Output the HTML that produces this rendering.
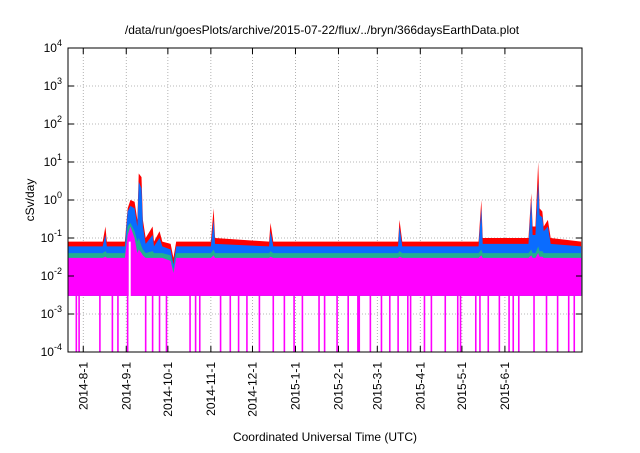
<!DOCTYPE html>
<html><head><meta charset="utf-8"><style>
body{margin:0;background:#fff;width:640px;height:448px;overflow:hidden}
svg{font-family:"Liberation Sans",Helvetica,sans-serif}
</style></head><body>
<svg id="chart" width="640" height="448">
<text x="322" y="34" font-size="12" text-anchor="middle">/data/run/goesPlots/archive/2015-07-22/flux/../bryn/366daysEarthData.plot</text>
<text x="0" y="0" font-size="12" text-anchor="middle" transform="translate(34,200) rotate(-90)">cSv/day</text>
<text x="325" y="441" font-size="12" text-anchor="middle">Coordinated Universal Time (UTC)</text>
<g id="grid"></g><g id="series"></g><g id="axes"></g>
</svg>
<script>
const days=[0,19.5,25,27,28,41,43,45,48,50,51,53,54,56,61,62,66,68,74,76,78,103,105,106,145,146,148,238,239,241,296,298,299,332,334,335,337,339,340,342,343,346,348,370];
const redVals=[0.08,0.08,0.08,0.2,0.08,0.08,0.6,1.0,0.9,0.3,5,4,0.3,0.1,0.2,0.08,0.15,0.08,0.07,0.03,0.08,0.08,0.6,0.1,0.08,0.25,0.08,0.08,0.3,0.08,0.08,1.0,0.1,0.1,1.5,0.2,0.2,10,0.6,0.5,0.2,0.3,0.1,0.08];
const blueVals=[0.06,0.06,0.06,0.12,0.06,0.06,0.5,0.7,0.6,0.2,3,2,0.2,0.07,0.12,0.06,0.1,0.06,0.05,0.02,0.06,0.06,0.3,0.07,0.06,0.15,0.06,0.06,0.2,0.06,0.06,0.6,0.07,0.07,1.0,0.12,0.12,3,0.4,0.35,0.15,0.2,0.07,0.06];
const tealVals=[0.04,0.04,0.04,0.045,0.04,0.04,0.2,0.25,0.15,0.08,0.1,0.06,0.05,0.04,0.045,0.04,0.04,0.04,0.035,0.015,0.04,0.04,0.05,0.04,0.04,0.045,0.04,0.04,0.045,0.04,0.04,0.05,0.04,0.04,0.05,0.04,0.04,0.06,0.045,0.045,0.04,0.04,0.04,0.04];
const magTopVals=[0.03,0.03,0.03,0.032,0.03,0.03,0.12,0.2,0.1,0.04,0.05,0.04,0.035,0.03,0.03,0.03,0.03,0.03,0.025,0.012,0.03,0.03,0.035,0.03,0.03,0.032,0.03,0.03,0.032,0.03,0.03,0.035,0.03,0.03,0.035,0.03,0.03,0.04,0.032,0.032,0.03,0.03,0.03,0.03];
const magBottom=0.003;
const dropoutDays=[6,8,23,32,36,43,56,61,66,71,88,92,95,110,117,123,129,138,148,156,163,169,181,185,194,202,209,210,218,226,232,238,245,247,257,262,272,281,283,294,297,303,311,318,321,325,336,345,353,361,365];
const gapDays=[44.5];
const monthDays=[11,42,72,103,133,164,195,223,254,284,315];
const monthLabels=["2014-8-1","2014-9-1","2014-10-1","2014-11-1","2014-12-1","2015-1-1","2015-2-1","2015-3-1","2015-4-1","2015-5-1","2015-6-1"];
const yExps=[-4,-3,-2,-1,0,1,2,3,4];

const L=68,R=582,T=48,B=352,DPD=1.387;
const X=d=>L+d*DPD;
const Y=v=>B-(Math.log10(v)+4)*(B-T)/8;
const NS="http://www.w3.org/2000/svg";
function mk(tag,parent,attrs){const e=document.createElementNS(NS,tag);for(const k in attrs)e.setAttribute(k,attrs[k]);parent.appendChild(e);return e;}
const grid=document.getElementById('grid'),ser=document.getElementById('series'),ax=document.getElementById('axes');

yExps.forEach(p=>{
  const y=Y(Math.pow(10,p));
  if(p>-4&&p<4){const g=mk('line',grid,{x1:L,x2:R,y1:y,y2:y,stroke:'#a0a0a0','stroke-dasharray':'1,2','stroke-width':0.8});
  
  }
  const t=mk('text',ax,{x:L-6,y:y+4,'font-size':12,'text-anchor':'end'});
  
  
  t.textContent='10';
  const s=mk('tspan',t,{dy:-6,'font-size':9});s.textContent=String(p);
  mk('line',ax,{x1:L,x2:L+6,y1:y,y2:y,stroke:'#000'});
  mk('line',ax,{x1:R,x2:R-6,y1:y,y2:y,stroke:'#000'});
});
monthDays.forEach((d,i)=>{
  const x=X(d);
  const g=mk('line',grid,{x1:x,x2:x,y1:T,y2:B,stroke:'#a0a0a0','stroke-dasharray':'1,2','stroke-width':0.8});
  
  
  mk('line',ax,{x1:x,x2:x,y1:B,y2:B-6,stroke:'#000'});
  mk('line',ax,{x1:x,x2:x,y1:T,y2:T+6,stroke:'#000'});
  const t=mk('text',ax,{x:0,y:0,'font-size':12,'text-anchor':'end',transform:`translate(${x+4},${B+10}) rotate(-90)`});
  
  
  t.textContent=monthLabels[i];
});
function area(vals,bottom,color,name){
  let d=`M${X(days[0])},${Y(bottom)}`;
  days.forEach((dd,i)=>{d+=`L${X(dd)},${Y(vals[i])}`;});
  d+=`L${X(days[days.length-1])},${Y(bottom)}Z`;
  const p=mk('path',ser,{d:d,fill:color});
  
  
}
area(redVals,magBottom,'#ff0000','series-red');
area(blueVals,magBottom,'#0a6cff','series-blue');
area(tealVals,magBottom,'#20b090','series-teal');
area(magTopVals,magBottom,'#ff00ff','series-magenta');
dropoutDays.forEach(d=>{
  const l=mk('line',ser,{x1:X(d),x2:X(d),y1:Y(magBottom),y2:B,stroke:'#ff00ff','stroke-width':1.6});
  
  
});
gapDays.forEach(d=>{
  const l=mk('line',ser,{x1:X(d),x2:X(d),y1:Y(0.08),y2:B,stroke:'#ffffff','stroke-width':2});
  
  
});
const fr=mk('rect',ax,{x:L,y:T,width:R-L,height:B-T,fill:'none',stroke:'#000','stroke-width':1});


</script>
</body></html>
